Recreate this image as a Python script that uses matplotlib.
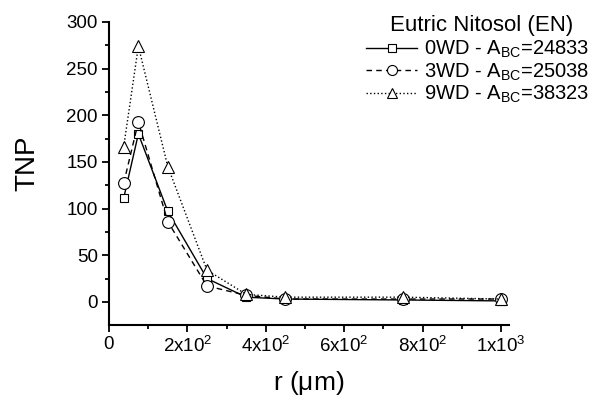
import matplotlib.pyplot as plt
import numpy as np

plt.rcParams['font.family'] = ['Liberation Sans', 'DejaVu Sans']
plt.rcParams['mathtext.fontset'] = 'custom'
plt.rcParams['mathtext.rm'] = 'Liberation Sans'
plt.rcParams['mathtext.it'] = 'Liberation Sans'

r = [37.5, 75, 150, 250, 350, 450, 750, 1000]
tnp_0wd = [111, 180, 97, 25, 5, 3, 2, 1]
tnp_3wd = [127, 193, 86, 17, 7, 3, 3, 3]
tnp_9wd = [166, 274, 145, 34, 8, 5, 5, 3]

title = 'Eutric Nitosol (EN)'
labels = ['0WD - A$_{\\mathrm{BC}}$=24833',
          '3WD - A$_{\\mathrm{BC}}$=25038',
          '9WD - A$_{\\mathrm{BC}}$=38323']
xticks = [0, 200, 400, 600, 800, 1000]
xticklabels = ['0', '2x10$^2$', '4x10$^2$', '6x10$^2$', '8x10$^2$', '1x10$^3$']
yticks = [0, 50, 100, 150, 200, 250, 300]

fig = plt.figure(figsize=(5.89, 3.98), dpi=100)
ax = fig.add_axes([0.185, 0.183, 0.679, 0.762])

ax.plot(r, tnp_0wd, '-', color='black', lw=1, marker='s', ms=6, mfc='white', mec='black', mew=0.8, label=labels[0])
ax.plot(r, tnp_3wd, '--', color='black', lw=1, marker='o', ms=8.5, mfc='white', mec='black', mew=0.8, label=labels[1], dashes=(4, 3))
ax.plot(r, tnp_9wd, ':', color='black', lw=1, marker='^', ms=8.5, mfc='white', mec='black', mew=0.8, label=labels[2])

ax.set_xlim(0, 1020)
ax.set_ylim(-25, 300)
ax.set_xticks(xticks)
ax.set_xticklabels(xticklabels)
ax.set_xticks([100, 300, 500, 700, 900], minor=True)
ax.set_yticks(yticks)
ax.set_yticks([25, 75, 125, 175, 225, 275], minor=True)
ax.tick_params(which='major', direction='out', length=5, width=1.3, labelsize=13.5, pad=3)
ax.tick_params(which='minor', direction='out', length=3, width=1.3)
for s in ['top', 'right']:
    ax.spines[s].set_visible(False)
for s in ['left', 'bottom']:
    ax.spines[s].set_linewidth(1.5)

ax.set_ylabel('TNP', fontsize=20)
ax.yaxis.set_label_coords(-0.1725, 0.535)
ax.set_xlabel('r ($\\mu$m)', fontsize=19)
ax.xaxis.set_label_coords(0.5, -0.145)

# legend title drawn separately so its gap to the entries can be set
fig.text(482/589, 1 - 26/398, title, fontsize=16, ha='center', va='center')
leg = ax.legend(loc='upper right', bbox_to_anchor=(1.0, 1 - 39/398), bbox_transform=fig.transFigure,
                frameon=False, fontsize=14.5, markerscale=0.85,
                handlelength=2.5, handletextpad=0.35, labelspacing=0.05, borderaxespad=0, borderpad=0)

fig.savefig('out.png', dpi=100)
